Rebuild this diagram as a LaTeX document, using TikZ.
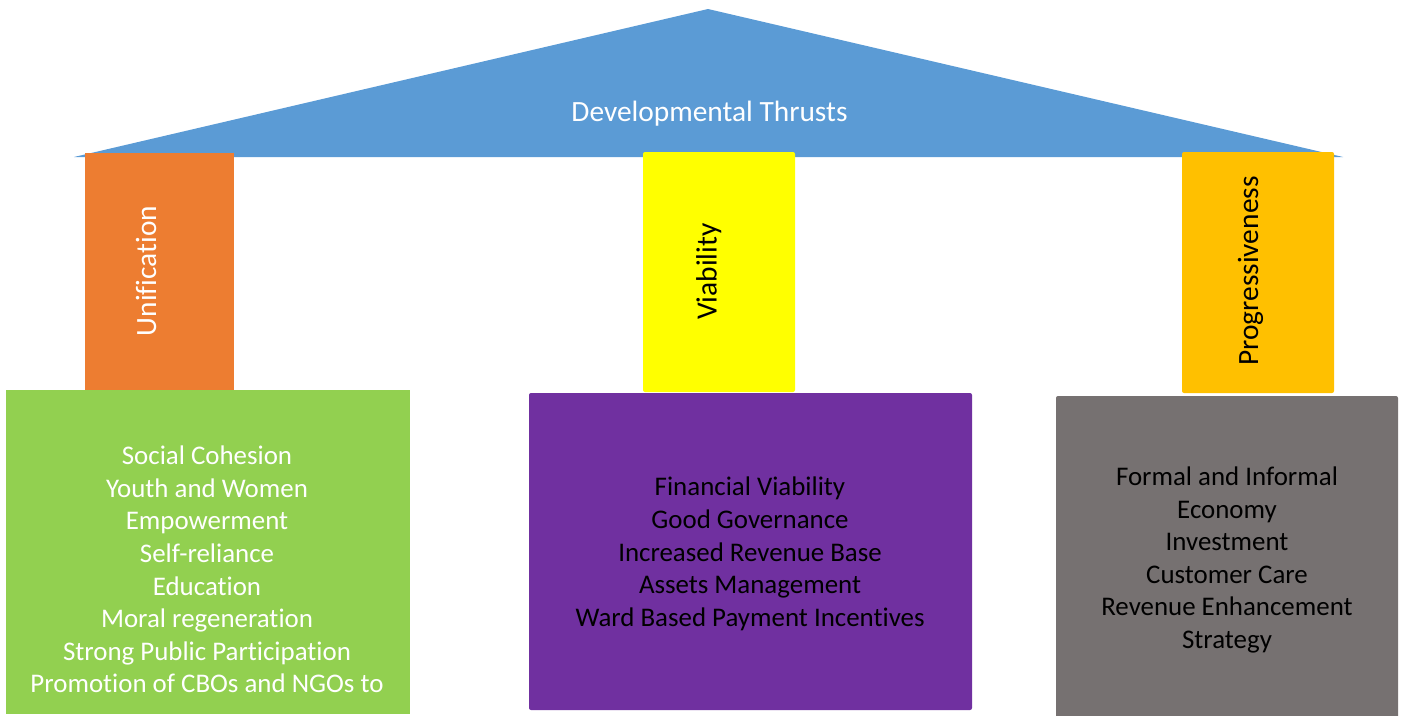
\documentclass[tikz,border=0pt]{standalone}
\usepackage{fontspec}
\setmainfont{Carlito}[Ligatures={NoCommon}]
\definecolor{roofblue}{HTML}{5B9BD5}
\definecolor{uniorange}{HTML}{ED7D31}
\definecolor{boxgreen}{HTML}{92D050}
\definecolor{viayellow}{HTML}{FFFF00}
\definecolor{progamber}{HTML}{FFC000}
\definecolor{boxpurple}{HTML}{7030A0}
\definecolor{boxgray}{HTML}{767171}
\tikzset{
  txt/.style={font=\fontsize{26.9}{32.6}\selectfont, align=center, inner sep=0pt},
  lbl/.style={font=\fontsize{29.4}{35}\selectfont, inner sep=0pt, anchor=base},
  rbox/.style={rounded corners=2pt},
}
\begin{document}
\begin{tikzpicture}[x=1pt,y=-1pt]
\useasboundingbox (0,0) rectangle (1402,715);
% roof
\coordinate (apex) at (708,9);
\coordinate (rl) at (74,157);
\coordinate (rr) at (1343,157);
\fill[roofblue] (rl) -- (apex) -- (rr) -- cycle;
\node[lbl, text=white] (roof) at (709.5,121) {Developmental Thrusts};
% pillars
\fill[uniorange] (85,153) rectangle (234,390);
\fill[viayellow, rbox] (643,152) rectangle (795,392);
\fill[progamber, rbox] (1182,152) rectangle (1334,393);
\node[lbl, text=white, rotate=90] (uni) at (156,271) {Unification};
\node[lbl, text=black, rotate=90] (via) at (716.5,271.5) {Viability};
\node[lbl, text=black, rotate=90] (prog) at (1258,271) {Progressiveness};
% boxes
\fill[boxgreen] (6,390) rectangle (410,714);
\fill[boxpurple, rbox] (529,393) rectangle (972,710);
\fill[boxgray, rbox] (1056,396) rectangle (1398,718);
\node[txt, text=white] (green) at (207,569.5) {Social Cohesion\\Youth and Women\\Empowerment\\Self-reliance\\Education\\Moral regeneration\\Strong Public Participation\\Promotion of CBOs and NGOs to};
\node[txt, text=black] (purple) at (750,554) {Financial Viability\\Good Governance\\Increased Revenue Base\\Assets Management\\Ward Based Payment Incentives};
\node[txt, text=black] (gray) at (1227,560) {Formal and Informal\\Economy\\Investment\\Customer Care\\Revenue Enhancement\\Strategy};
\end{tikzpicture}
\end{document}
